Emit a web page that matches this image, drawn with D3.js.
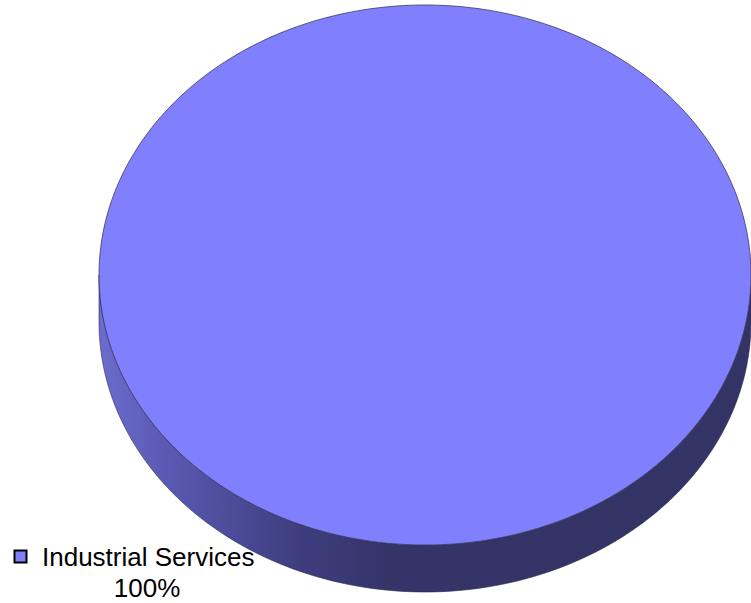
<!DOCTYPE html>
<html>
<head>
<meta charset="utf-8">
<script src="https://cdn.jsdelivr.net/npm/d3@7"></script>
<style>
  html, body { margin: 0; padding: 0; background: #fff; }
  svg { display: block; }
</style>
</head>
<body>
<svg id="chart" width="751" height="603"></svg>
<script>
// Slice data
const categories = ["Industrial Services"];
const values = [100];
const percentLabels = ["100%"];
const colors = ["#8080ff"];

const svg = d3.select("#chart");
const cx = 425, cy = 275, rx = 326, ry = 270, depth = 47;

const pie = d3.pie().sort(null).value(d => d)(values);

const defs = svg.append("defs");
const grad = defs.append("linearGradient")
  .attr("id", "sideGrad").attr("gradientUnits", "userSpaceOnUse")
  .attr("x1", cx - rx).attr("x2", cx + rx).attr("y1", 0).attr("y2", 0);
[[0, "#6c6cd0"], [0.1, "#5a5ab4"], [0.3, "#3e3e80"], [0.45, "#343468"], [1, "#333366"]]
  .forEach(([o, c]) => grad.append("stop").attr("offset", o).attr("stop-color", c));

// point on the ellipse for a pie angle (clockwise from 12 o'clock)
const pt = (a, dy = 0) => [cx + rx * Math.sin(a), cy - ry * Math.cos(a) + dy];

function arcPath(a0, a1, dy, steps) {
  const pts = [];
  for (let i = 0; i <= steps; i++) pts.push(pt(a0 + (a1 - a0) * i / steps, dy));
  return pts;
}

pie.forEach((d, i) => {
  // visible side wall: front half of the ellipse (3 o'clock to 9 o'clock)
  const s0 = Math.max(d.startAngle, Math.PI / 2);
  const s1 = Math.min(d.endAngle, 3 * Math.PI / 2);
  if (s1 > s0) {
    const topEdge = arcPath(s0, s1, 0, 120);
    const botEdge = arcPath(s1, s0, depth, 120);
    svg.append("path")
      .attr("d", d3.line()(topEdge.concat(botEdge)) + "Z")
      .attr("fill", "url(#sideGrad)")
      .attr("stroke", "#2a2a50").attr("stroke-width", 0.6);
  }
  // top face
  const full = d.endAngle - d.startAngle >= 2 * Math.PI - 1e-9;
  const top = arcPath(d.startAngle, d.endAngle, 0, 360);
  svg.append("path")
    .attr("d", d3.line()(full ? top : [[cx, cy]].concat(top)) + "Z")
    .attr("fill", colors[i])
    .attr("stroke", "#3a3a5a").attr("stroke-width", 0.8);
});

// label with legend key
const lg = svg.append("g");
lg.append("rect").attr("x", 14.5).attr("y", 550.5).attr("width", 12).attr("height", 12)
  .attr("fill", colors[0]).attr("stroke", "#000").attr("stroke-width", 2);
lg.append("text").attr("x", 42).attr("y", 566)
  .attr("font-family", "Liberation Sans, Arial, sans-serif").attr("font-size", 26)
  .attr("fill", "#000").text(categories[0]);
lg.append("text").attr("x", 147).attr("y", 597).attr("text-anchor", "middle")
  .attr("font-family", "Liberation Sans, Arial, sans-serif").attr("font-size", 26)
  .attr("fill", "#000").text(percentLabels[0]);
</script>
</body>
</html>
